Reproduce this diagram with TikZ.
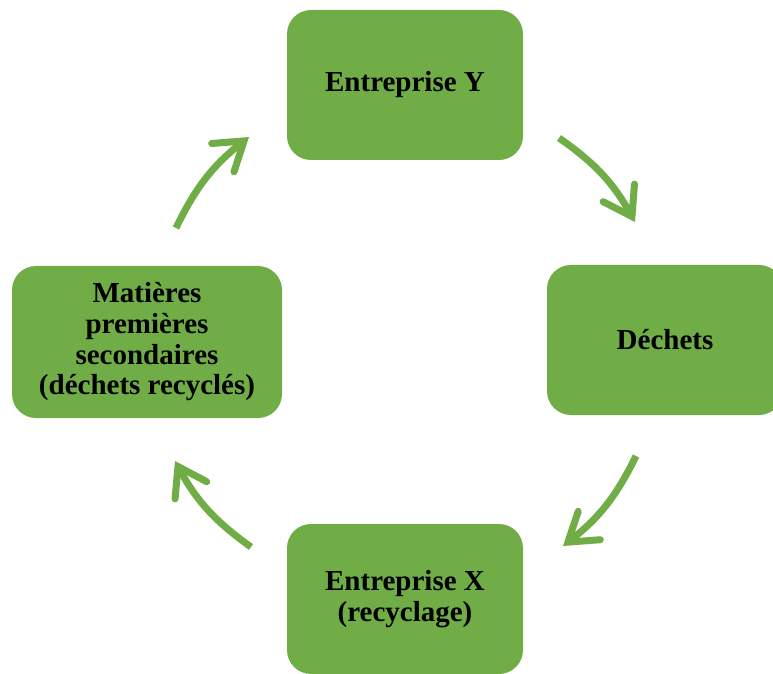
\documentclass[tikz,border=0pt]{standalone}
\usepackage{fontspec}
\setmainfont{Liberation Serif}
\usetikzlibrary{arrows.meta, positioning}

\definecolor{vert}{HTML}{70AD47}

\begin{document}
\begin{tikzpicture}[
    x=1pt, y=1pt,
    etape/.style={
        rectangle,
        fill=vert,
        rounded corners=24pt,
        minimum width=236pt,
        minimum height=150pt,
        align=center,
        font=\fontsize{29}{30.7}\selectfont\bfseries
    },
    fleche/.style={
        line width=7pt,
        draw=vert,
        -{Straight Barb[length=27pt, width=36pt, line cap=round]}
    }
]

\useasboundingbox (0,0) rectangle (773,673);
\clip (0,0) rectangle (773,673);

\node[etape] (entY) at (405,588) {Entreprise Y};
\node[etape] (dechets) at (665,333) {Déchets};
\node[etape] (entX) at (405,74) {Entreprise X\\(recyclage)};
\node[etape, minimum width=270pt, minimum height=152pt] (mps) at (147,331)
    {Matières\\premières\\secondaires\\(déchets recyclés)};

% bouts des fleches
\coordinate (d1) at (559,535);
\coordinate (f1) at (635,451);
\coordinate (d2) at (636,217);
\coordinate (f2) at (563,127);
\coordinate (d3) at (251,126);
\coordinate (f3) at (175,212);
\coordinate (d4) at (176,445);
\coordinate (f4) at (249,536);

\draw[fleche] (d1) to[bend left=13] (f1);
\draw[fleche] (d2) to[bend left=13] (f2);
\draw[fleche] (d3) to[bend left=13] (f3);
\draw[fleche] (d4) to[bend left=13] (f4);

\end{tikzpicture}
\end{document}
